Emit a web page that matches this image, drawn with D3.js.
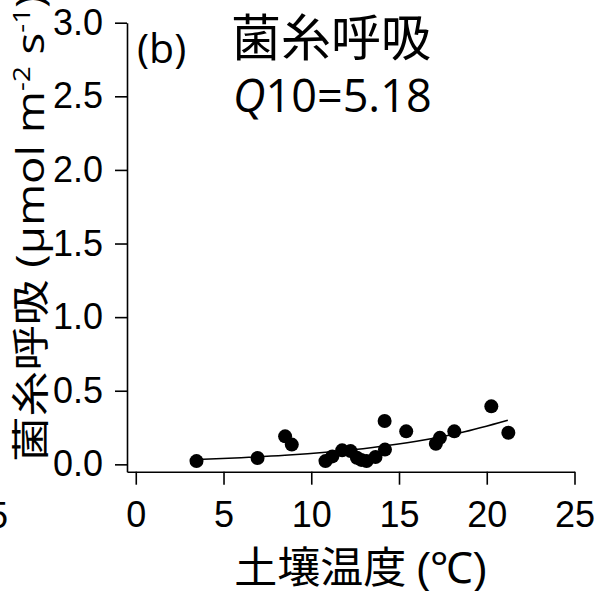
<!DOCTYPE html>
<html>
<head>
<meta charset="utf-8">
<script src="https://cdn.jsdelivr.net/npm/d3@7"></script>
<style>
  body { margin: 0; background: #fff; }
  svg { display: block; }
</style>
</head>
<body>
<svg id="chart" width="606" height="591"></svg>
<script>
// soil temperature (°C) and hyphal respiration (µmol m-2 s-1)
const soilTemp = [3.46, 6.94, 8.51, 8.89, 10.81, 11.2, 11.76, 12.24, 12.6, 12.85, 13.15, 13.66, 14.2, 14.18, 15.41, 17.1, 17.33, 18.15, 20.26, 21.23];
const hyphaResp = [0.022, 0.043, 0.19, 0.134, 0.022, 0.054, 0.095, 0.09, 0.045, 0.03, 0.022, 0.05, 0.1, 0.294, 0.224, 0.14, 0.18, 0.224, 0.394, 0.215];

// fitted curve
const fitTemp = [3.5, 6, 8.5, 11, 13.5, 16, 18.5, 21.2];
const fitResp = [0.033, 0.045, 0.061, 0.084, 0.115, 0.157, 0.215, 0.30];

const xTicks = [0, 5, 10, 15, 20, 25];
const yTicks = [0, 0.5, 1.0, 1.5, 2.0, 2.5, 3.0];

const svg = d3.select('#chart');
const numFont = '"Liberation Sans", Arial, sans-serif';
const cjkFont = '"Noto Sans CJK JP", sans-serif';
const latFont = '"Open Sans", "Noto Sans", sans-serif';

const x = d3.scaleLinear().domain([-0.5, 25]).range([127, 574.5]);
const y = d3.scaleLinear().domain([-0.05, 3]).range([471.7, 22.7]);

// Axes

const xAxis = svg.append('g')
  .attr('transform', `translate(0, ${y.range()[0]})`)
  .call(d3.axisBottom(x).tickValues(xTicks).tickSize(13).tickSizeOuter(0).tickPadding(17));

const yAxis = svg.append('g')
  .attr('transform', `translate(${x.range()[0]}, 0)`)
  .call(d3.axisLeft(y).tickValues(yTicks).tickSize(12).tickSizeOuter(0).tickPadding(12)
    .tickFormat(d3.format('.1f')));

[xAxis, yAxis].forEach(g => {
  g.attr('font-size', 36).attr('font-family', numFont);
  g.selectAll('path, line').attr('stroke', '#000').attr('stroke-width', 1.6);
  g.selectAll('text').attr('fill', '#000');
});

// Fit line and points

const line = d3.line()
  .x((d, i) => x(fitTemp[i]))
  .y(d => y(d))
  .curve(d3.curveMonotoneX);

svg.append('path')
  .attr('d', line(fitResp))
  .attr('fill', 'none')
  .attr('stroke', '#000')
  .attr('stroke-width', 1.5);

svg.append('g')
  .selectAll('circle')
  .data(soilTemp)
  .join('circle')
  .attr('cx', d => x(d))
  .attr('cy', (d, i) => y(hyphaResp[i]))
  .attr('r', 7)
  .attr('fill', '#000');

// Titles

svg.append('text')
  .attr('x', 137).attr('y', 63)
  .style('font-family', latFont).style('font-size', '41px')
  .text('(b)');

svg.append('text')
  .attr('x', 231).attr('y', 56)
  .style('font-family', cjkFont).style('font-size', '50px')
  .text('菌糸呼吸');

const q = svg.append('text')
  .attr('x', 233).attr('y', 112)
  .style('font-family', latFont).style('font-size', '45px');
q.append('tspan').style('font-style', 'italic').text('Q');
q.append('tspan').text('10=5.18');

// x axis title
const xt = svg.append('text')
  .attr('x', 361).attr('y', 583)
  .attr('text-anchor', 'middle')
  .style('font-size', '43px');
xt.append('tspan').style('font-family', cjkFont).text('土壤温度 ');
xt.append('tspan').style('font-family', numFont).text('(℃)');

// y axis title (stretched along its run like the original)
const yt = svg.append('text')
  .attr('transform', 'translate(44, 462) rotate(-90) scale(1.2, 1)')
  .style('font-size', '38px');
yt.append('tspan').style('font-family', cjkFont).text('菌糸呼吸');
yt.append('tspan').style('font-family', latFont).text(' (μmol m');
yt.append('tspan').style('font-family', latFont).style('font-size', '23px').attr('dy', -14).text('-2');
yt.append('tspan').style('font-family', latFont).attr('dy', 14).text(' s');
yt.append('tspan').style('font-family', latFont).style('font-size', '23px').attr('dy', -14).text('-1');
yt.append('tspan').style('font-family', latFont).attr('dy', 14).text(')');

// cut-off tick label of the neighbouring panel
svg.append('text')
  .attr('x', 8).attr('y', 528)
  .attr('text-anchor', 'end')
  .style('font-family', numFont).style('font-size', '36px')
  .text('25');
</script>
</body>
</html>
